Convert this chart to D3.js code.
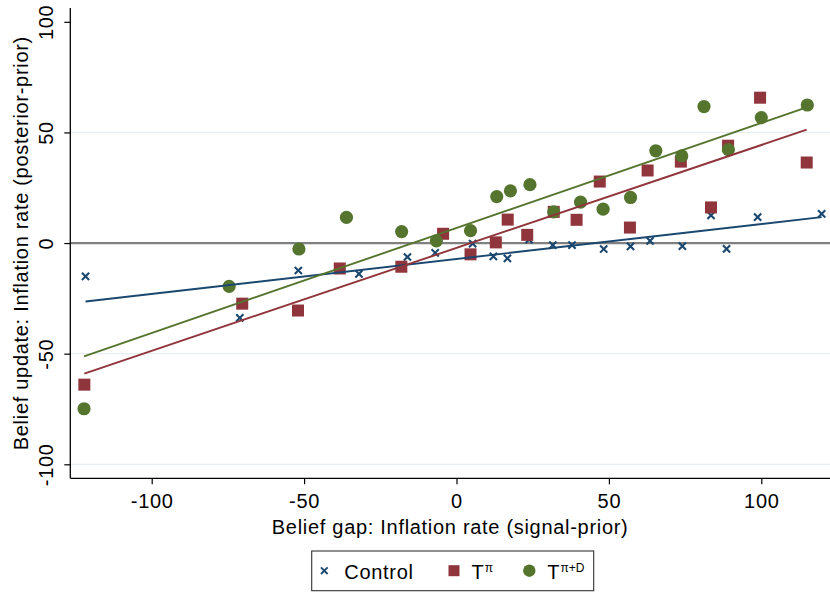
<!DOCTYPE html>
<html>
<head>
<meta charset="utf-8">
<script src="https://cdn.jsdelivr.net/npm/d3@7"></script>
<style>
  html, body { margin: 0; padding: 0; background: #ffffff; }
  svg text { font-family: "Liberation Sans", Arial, Helvetica, sans-serif; fill: #000; }
</style>
</head>
<body>
<svg id="chart" width="830" height="593"></svg>
<script>
// ---- Data ----
const controlX = [-121.7, -71.1, -51.9, -32.0, -16.1, -7.0, 5.3, 12.1, 16.7, 23.8, 31.6, 37.9, 48.3, 57.1, 63.5, 74.1, 83.5, 88.6, 98.8, 119.8];
const controlY = [-15.1, -33.8, -12.4, -13.9, -6.3, -4.4, -0.3, -6.0, -6.9, 1.5, -0.9, -0.9, -2.7, -1.5, 1.0, -1.4, 12.5, -2.6, 11.7, 13.2];

const tpiX = [-122.1, -70.3, -52.0, -38.3, -18.1, -4.4, 4.6, 12.9, 16.8, 23.2, 31.9, 39.4, 47.0, 56.9, 62.7, 73.6, 83.5, 89.1, 99.6, 114.9];
const tpiY = [-64.0, -27.4, -30.5, -11.5, -10.7, 4.2, -5.1, 0.3, 10.6, 3.7, 14.1, 10.5, 27.8, 7.0, 32.8, 36.8, 16.1, 44.0, 65.7, 36.4];

const tpidX = [-122.2, -74.6, -51.7, -36.1, -18.0, -6.6, 4.6, 13.2, 17.7, 24.1, 31.9, 40.7, 48.1, 57.1, 65.4, 73.9, 81.2, 89.2, 100.0, 115.1];
const tpidY = [-74.9, -19.6, -2.7, 11.6, 5.2, 1.0, 5.6, 21.0, 23.6, 26.4, 14.1, 18.5, 15.3, 20.6, 41.7, 39.4, 61.7, 42.2, 56.7, 62.4];

// linear fit lines: [intercept, slope]
const fitControl = [-7.2, 0.158];
const fitTpi = [-2.2, 0.465];
const fitTpid = [6.8, 0.4745];

const xTicks = [-100, -50, 0, 50, 100];
const yTicks = [-100, -50, 0, 50, 100];
const yGrid = [-100, -50, 50];

const xTitle = "Belief gap: Inflation rate (signal-prior)";
const yTitle = "Belief update: Inflation rate (posterior-prior)";

// ---- Colours ----
const cNavy = "#1A476F", cMaroon = "#90353B", cGreen = "#55752F";

// ---- Layout ----
const svg = d3.select("#chart");
const plotLeft = 70.3, plotRight = 830, plotTop = 8, plotBottom = 478.3;

const x = d3.scaleLinear().domain([-100, 100]).range([151.7, 761.3]);
const y = d3.scaleLinear().domain([-100, 100]).range([464.3, 21.8]);

const fontSize = 20, ls = "0.7px";

// gridlines
svg.append("g").selectAll("line").data(yGrid).join("line")
  .attr("x1", plotLeft).attr("x2", plotRight)
  .attr("y1", d => y(d)).attr("y2", d => y(d))
  .attr("stroke", "#E6EEF1").attr("stroke-width", 1.2);

// zero line
svg.append("line")
  .attr("x1", plotLeft).attr("x2", plotRight)
  .attr("y1", y(0)).attr("y2", y(0))
  .attr("stroke", "#808080").attr("stroke-width", 2.2);

// axes
const xAxis = d3.axisBottom(x).tickValues(xTicks).tickSize(6).tickPadding(10).tickFormat(d3.format("d"));
const gx = svg.append("g").attr("transform", `translate(0,${plotBottom})`).call(xAxis);
gx.select(".domain").remove();
gx.selectAll(".tick line").attr("stroke", "#000").attr("stroke-width", 1.2);
gx.selectAll(".tick text").attr("font-size", fontSize).style("letter-spacing", ls)
  .attr("font-family", "Liberation Sans, Arial, sans-serif").text(d => d3.format("d")(d).replace("−", "-"));
svg.append("line").attr("x1", plotLeft).attr("x2", plotRight).attr("y1", plotBottom).attr("y2", plotBottom)
  .attr("stroke", "#000").attr("stroke-width", 1.3);

const yAxis = d3.axisLeft(y).tickValues(yTicks).tickSize(6).tickFormat(d3.format("d"));
const gy = svg.append("g").attr("transform", `translate(${plotLeft},0)`).call(yAxis);
gy.select(".domain").remove();
gy.selectAll(".tick line").attr("stroke", "#000").attr("stroke-width", 1.2);
gy.selectAll(".tick text")
  .attr("font-size", fontSize).style("letter-spacing", ls)
  .attr("font-family", "Liberation Sans, Arial, sans-serif")
  .attr("x", null).attr("dy", null)
  .attr("text-anchor", "middle")
  .attr("transform", "translate(-17,0) rotate(-90)")
  .text(d => d3.format("d")(d).replace("−", "-"));
svg.append("line").attr("x1", plotLeft).attr("x2", plotLeft).attr("y1", plotTop).attr("y2", plotBottom)
  .attr("stroke", "#000").attr("stroke-width", 1.3);

// axis titles
svg.append("text").attr("x", (plotLeft + plotRight) / 2).attr("y", 533.5)
  .attr("text-anchor", "middle").attr("font-size", fontSize).style("letter-spacing", ls).text(xTitle);
svg.append("text").attr("transform", `translate(28.3,${(plotTop + plotBottom) / 2}) rotate(-90)`)
  .attr("text-anchor", "middle").attr("font-size", fontSize).style("letter-spacing", ls).text(yTitle);

// ---- markers ----
const ctrl = controlX.map((v, i) => ({ x: v, y: controlY[i] }));
const tpi = tpiX.map((v, i) => ({ x: v, y: tpiY[i] }));
const tpid = tpidX.map((v, i) => ({ x: v, y: tpidY[i] }));

const xs = 3.6;
const gC = svg.append("g");
gC.selectAll("path").data(ctrl).join("path")
  .attr("d", d => `M${x(d.x) - xs},${y(d.y) - xs}L${x(d.x) + xs},${y(d.y) + xs}M${x(d.x) - xs},${y(d.y) + xs}L${x(d.x) + xs},${y(d.y) - xs}`)
  .attr("stroke", cNavy).attr("stroke-width", 2.1).attr("fill", "none");

const sq = 12;
svg.append("g").selectAll("rect").data(tpi).join("rect")
  .attr("x", d => x(d.x) - sq / 2).attr("y", d => y(d.y) - sq / 2)
  .attr("width", sq).attr("height", sq).attr("fill", cMaroon);

svg.append("g").selectAll("circle").data(tpid).join("circle")
  .attr("cx", d => x(d.x)).attr("cy", d => y(d.y)).attr("r", 6.6).attr("fill", cGreen);

// ---- fit lines ----
function fitLine(xsArr, coef, color) {
  const ext = d3.extent(xsArr);
  const pts = ext.map(v => [x(v), y(coef[0] + coef[1] * v)]);
  svg.append("path").attr("d", d3.line()(pts)).attr("stroke", color)
    .attr("stroke-width", 1.9).attr("fill", "none");
}
fitLine(controlX, fitControl, cNavy);
fitLine(tpiX, fitTpi, cMaroon);
fitLine(tpidX, fitTpid, cGreen);

// ---- legend ----
const lg = svg.append("g");
lg.append("rect").attr("x", 311.7).attr("y", 551).attr("width", 282).attr("height", 39.7)
  .attr("fill", "#fff").attr("stroke", "#333").attr("stroke-width", 1.1);
const ly = 570.7, lb = 579.3;
lg.append("path")
  .attr("d", `M${324.3 - 3.3},${ly - 3.3}L${324.3 + 3.3},${ly + 3.3}M${324.3 - 3.3},${ly + 3.3}L${324.3 + 3.3},${ly - 3.3}`)
  .attr("stroke", cNavy).attr("stroke-width", 1.9);
lg.append("text").attr("x", 344.3).attr("y", lb).attr("font-size", fontSize).style("letter-spacing", ls).text("Control");
lg.append("rect").attr("x", 448.5).attr("y", ly - 5.5).attr("width", 11).attr("height", 11).attr("fill", cMaroon);
const t1 = lg.append("text").attr("x", 471.5).attr("y", lb).attr("font-size", fontSize);
t1.append("tspan").text("T");
t1.append("tspan").attr("font-size", 12).attr("dy", -7).attr("dx", 1).text("π");
lg.append("circle").attr("cx", 529.3).attr("cy", ly).attr("r", 6.2).attr("fill", cGreen);
const t2 = lg.append("text").attr("x", 547.3).attr("y", lb).attr("font-size", fontSize);
t2.append("tspan").text("T");
t2.append("tspan").attr("font-size", 12).attr("dy", -7).attr("dx", 1).text("π+D");
</script>
</body>
</html>
